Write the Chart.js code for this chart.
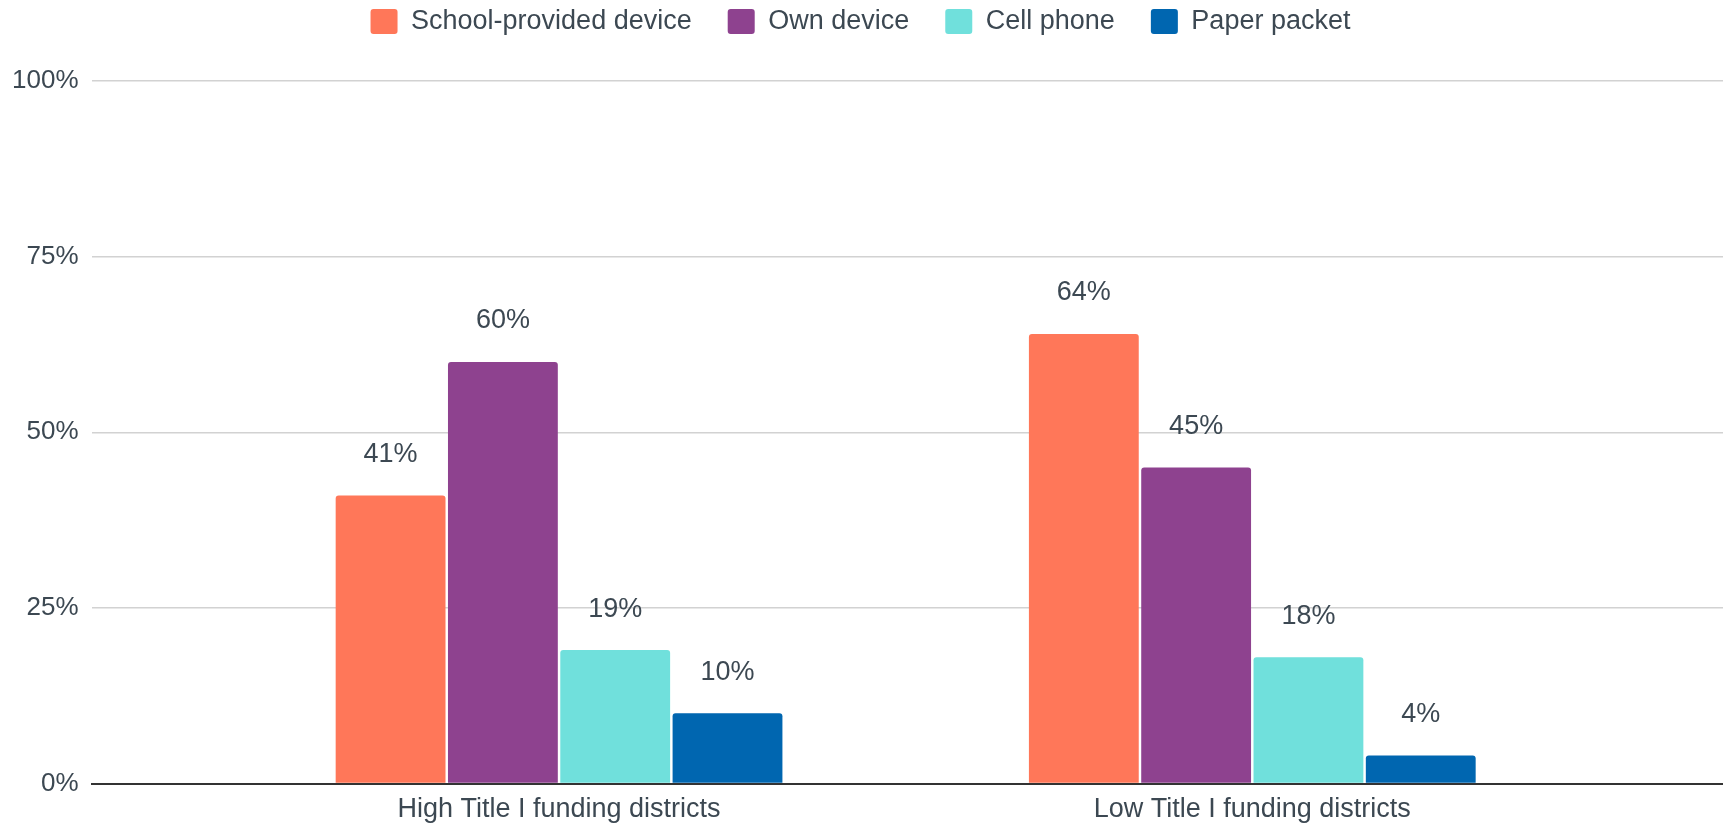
<!DOCTYPE html>
<html>
<head>
<meta charset="utf-8">
<title>Device access by district funding</title>
<script src="https://cdn.jsdelivr.net/npm/chart.js@4/dist/chart.umd.min.js"></script>
<style>
    html, body { margin: 0; padding: 0; background: #fff; }
    #wrap { width: 1723px; height: 826px; }
</style>
</head>
<body>
<div id="wrap"><canvas id="chart" width="1723" height="826"></canvas></div>
<script>
// groups along the x axis
const categories = ['High Title I funding districts', 'Low Title I funding districts'];

// percent of students per access type
const schoolDevice = [41, 64];
const ownDevice = [60, 45];
const cellPhone = [19, 18];
const paperPacket = [10, 4];

const yTicks = [0, 25, 50, 75, 100];

const textColor = '#3c4852';
const fontFamily = '"Liberation Sans", Arial, Helvetica, sans-serif';

function toPoints(values) {
    return values.map((v, i) => ({ x: i, y: v }));
}

// value labels above each bar
const barLabels = {
    id: 'barLabels',
    afterDatasetsDraw(chart) {
        const ctx = chart.ctx;
        ctx.save();
        ctx.font = '27px ' + fontFamily;
        ctx.fillStyle = textColor;
        ctx.textAlign = 'center';
        ctx.textBaseline = 'middle';
        chart.data.datasets.forEach((ds, di) => {
            const meta = chart.getDatasetMeta(di);
            meta.data.forEach((bar, i) => {
                ctx.fillText(ds.data[i].y + '%', bar.x, bar.y - 41);
            });
        });
        ctx.restore();
    }
};

// leave some room between the legend and the plot
const legendGap = {
    id: 'legendGap',
    beforeInit(chart) {
        const origFit = chart.legend.fit;
        chart.legend.fit = function () {
            origFit.bind(chart.legend)();
            this.height += 36;
        };
    }
};

new Chart(document.getElementById('chart'), {
    type: 'bar',
    data: {
        datasets: [
            { label: 'School-provided device', data: toPoints(schoolDevice), backgroundColor: '#ff7759' },
            { label: 'Own device', data: toPoints(ownDevice), backgroundColor: '#8e428f' },
            { label: 'Cell phone', data: toPoints(cellPhone), backgroundColor: '#70e0dc' },
            { label: 'Paper packet', data: toPoints(paperPacket), backgroundColor: '#0066b0' }
        ]
    },
    plugins: [barLabels, legendGap],
    options: {
        responsive: false,
        animation: false,
        devicePixelRatio: 1,
        layout: { padding: { top: -28, left: -2, right: 0, bottom: -10 } },
        datasets: {
            bar: {
                categoryPercentage: 0.648,
                barPercentage: 0.978,
                borderRadius: 3,
                borderSkipped: 'start'
            }
        },
        plugins: {
            tooltip: { enabled: false },
            legend: {
                position: 'top',
                labels: {
                    color: textColor,
                    font: { family: fontFamily, size: 27 },
                    boxWidth: 27,
                    boxHeight: 25,
                    padding: 36,
                    useBorderRadius: true,
                    borderRadius: 3
                }
            }
        },
        scales: {
            x: {
                type: 'linear',
                min: -0.673,
                max: 1.679,
                offset: false,
                bounds: 'data',
                afterBuildTicks(scale) {
                    scale.ticks = categories.map((c, i) => ({ value: i }));
                },
                grid: { display: false, drawTicks: false },
                border: { display: true, color: '#333333', width: 2 },
                ticks: {
                    color: textColor,
                    font: { family: fontFamily, size: 27 },
                    padding: 10,
                    maxRotation: 0,
                    autoSkip: false,
                    callback: (v) => categories[v] || ''
                }
            },
            y: {
                min: 0,
                max: 100,
                afterBuildTicks(scale) {
                    scale.ticks = yTicks.map(v => ({ value: v }));
                },
                grid: {
                    color: (c) => c.tick && c.tick.value === 0 ? 'rgba(0,0,0,0)' : '#d2d2d2',
                    lineWidth: 1.5,
                    drawTicks: false
                },
                border: { display: false },
                ticks: {
                    color: textColor,
                    font: { family: fontFamily, size: 26 },
                    padding: 14,
                    callback: (v) => v + '%'
                }
            }
        }
    }
});
</script>
</body>
</html>
